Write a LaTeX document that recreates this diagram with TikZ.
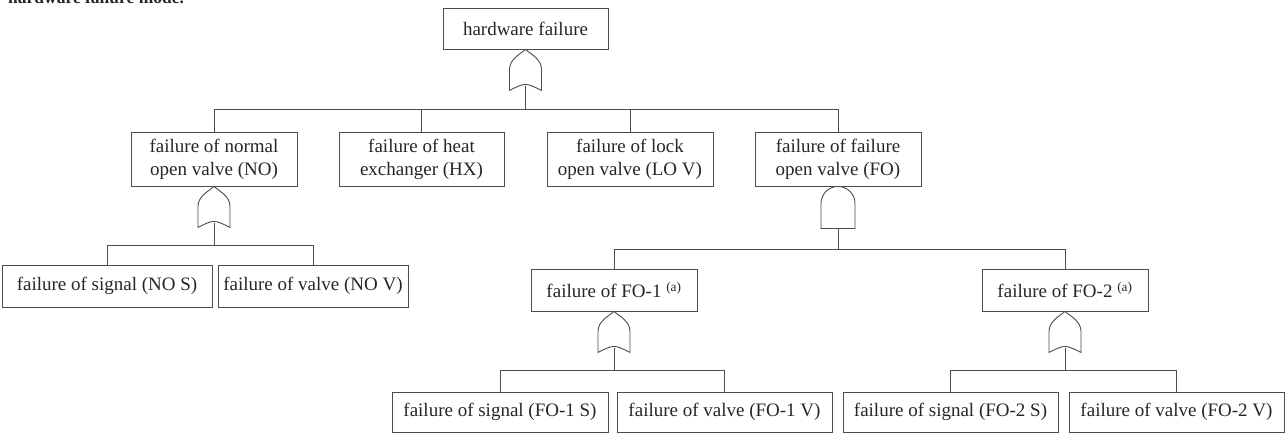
\documentclass[tikz,border=0pt]{standalone}
\usepackage{fontspec}
\setmainfont{Liberation Serif}
\begin{document}
\begin{tikzpicture}[x=1pt,y=-1pt,
  box/.style={draw=black!70, line width=0.9pt, rectangle, inner sep=0pt, align=center,
    font=\fontsize{19}{23}\selectfont, text=black!85, minimum height=42pt},
  twoline/.style={box, minimum width=166pt, minimum height=54pt},
  wire/.style={draw=black!70, line width=0.9pt},
  orgate/.pic={
    \path[wire, fill=white] (0,0) .. controls (6,5) and (16,10) .. (16,20) -- (16,41)
      .. controls (0,33) .. (-16,41) -- (-16,20) .. controls (-16,10) and (-6,5) .. cycle;
    \coordinate (-out) at (0,37);
  },
  andgate/.pic={
    \path[wire, fill=white] (-17,42) -- (-17,17) arc[start angle=180, end angle=0, radius=17pt]
      -- (17,42) -- cycle;
    \coordinate (-out) at (0,42);
  }]
\useasboundingbox (0,0) rectangle (1285,434);

% clipped caption line at the top edge
\node[anchor=base west, inner sep=0pt, text=black!85, font=\bfseries\fontsize{17.5}{20}\selectfont] (cap) at (8,3) {hardware failure mode.};

% top event
\node[box, minimum width=165pt, minimum height=41pt] (top) at (525.5,28.5) {hardware failure};
\pic (gTop) at (top.south) {orgate};

% level 1
\node[twoline] (NO) at (214,159) {failure of normal\\open valve (NO)};
\node[twoline, minimum width=165pt] (HX) at (421.5,159) {failure of heat\\exchanger (HX)};
\node[twoline] (LOV) at (630,159) {failure of lock\\open valve (LO V)};
\node[twoline] (FO) at (838,159) {failure of failure\\open valve (FO)};

\coordinate (bTop) at (525.5,109);
\draw[wire] (gTop-out) -- (bTop);
\draw[wire] (NO.north) |- (bTop);
\draw[wire] (HX.north) |- (bTop);
\draw[wire] (LOV.north) |- (bTop);
\draw[wire] (FO.north) |- (bTop);

% NO branch
\pic (gNO) at (NO.south) {orgate};
\node[box, minimum width=210pt] (NOS) at (107,286) {failure of signal (NO S)};
\node[box, minimum width=190pt] (NOV) at (313,286) {failure of valve (NO V)};
\coordinate (bNO) at (214,245);
\draw[wire] (gNO-out) -- (bNO);
\draw[wire] (NOS.north) |- (bNO);
\draw[wire] (NOV.north) |- (bNO);

% FO branch
\pic (gFO) at (FO.south) {andgate};
\node[box, minimum width=166pt] (FO1) at (614,290) {failure of FO-1 \textsuperscript{(a)}};
\node[box, minimum width=166pt] (FO2) at (1065,290) {failure of FO-2 \textsuperscript{(a)}};
\coordinate (bFO) at (838,249);
\draw[wire] (gFO-out) -- (bFO);
\draw[wire] (FO1.north) |- (bFO);
\draw[wire] (FO2.north) |- (bFO);

% FO-1 branch
\pic (gFO1) at (FO1.south) {orgate};
\node[box, minimum width=216pt, minimum height=40pt] (FO1S) at (500,412) {failure of signal (FO-1 S)};
\node[box, minimum width=215pt, minimum height=40pt] (FO1V) at (724.5,412) {failure of valve (FO-1 V)};
\coordinate (bFO1) at (614,370);
\draw[wire] (gFO1-out) -- (bFO1);
\draw[wire] (FO1S.north) |- (bFO1);
\draw[wire] (FO1V.north) |- (bFO1);

% FO-2 branch
\pic (gFO2) at (FO2.south) {orgate};
\node[box, minimum width=215pt, minimum height=40pt] (FO2S) at (950.5,412) {failure of signal (FO-2 S)};
\node[box, minimum width=215pt, minimum height=40pt] (FO2V) at (1176.5,412) {failure of valve (FO-2 V)};
\coordinate (bFO2) at (1065,370);
\draw[wire] (gFO2-out) -- (bFO2);
\draw[wire] (FO2S.north) |- (bFO2);
\draw[wire] (FO2V.north) |- (bFO2);
\end{tikzpicture}
\end{document}
